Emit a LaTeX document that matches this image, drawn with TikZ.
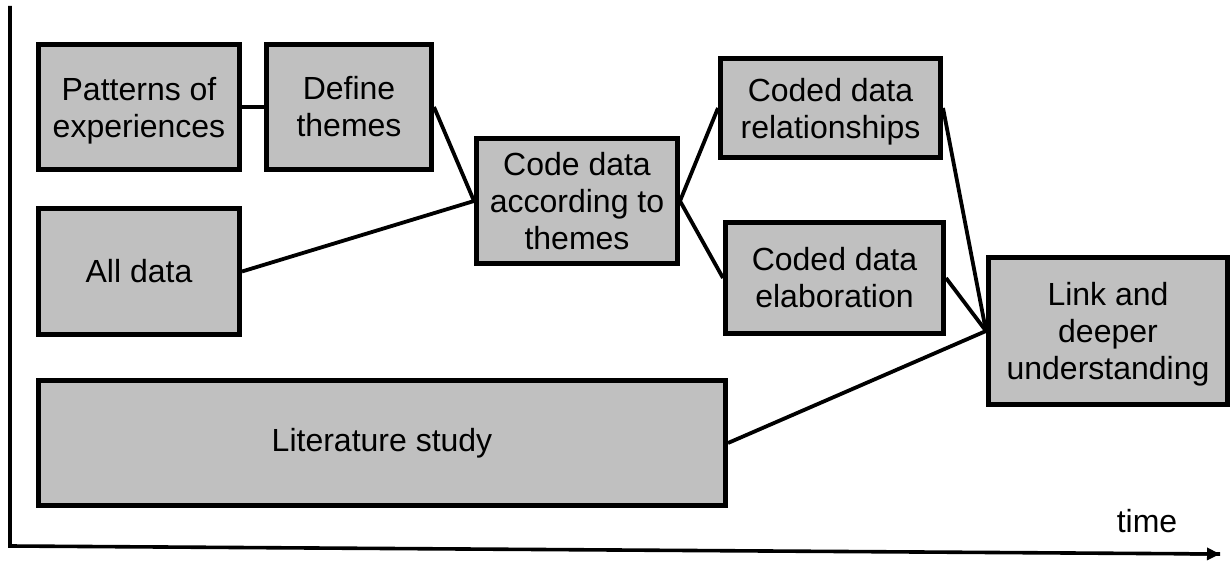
\documentclass[tikz,border=0pt]{standalone}
\usepackage{fontspec}
\setmainfont{Liberation Sans}
\usetikzlibrary{arrows.meta}
\definecolor{boxgray}{HTML}{C0C0C0}
\tikzset{
  box/.style={draw, line width=5pt, fill=boxgray, align=center, inner sep=0pt,
    font=\fontsize{32}{37}\selectfont},
  link/.style={line width=3.8pt},
  axis/.style={line width=3.6pt},
}
\begin{document}
\begin{tikzpicture}[x=1pt, y=-1pt]
  \useasboundingbox (0,0) rectangle (1230,561);

  % time axes
  \coordinate (ytop) at (10,6);
  \coordinate (origin) at (10,546);
  \coordinate (xend) at (1220,554);
  \draw[axis, line join=miter] (ytop) -- (origin) -- (xend);
  \draw[axis, -{Triangle[length=13pt,width=12pt]}] (1190,553.8) -- (xend);
  \node[font=\fontsize{32}{37}\selectfont] (time) at (1147,521) {time};

  % process steps (descenders on last lines are smashed so that baselines line up)
  \node[box, minimum width=201pt, minimum height=125pt] (pat)  at (139,107)   {Patterns of\\\smash{experiences}};
  \node[box, minimum width=165pt, minimum height=125pt] (def)  at (349,107)   {Define\\themes};
  \node[box, minimum width=201pt, minimum height=126pt] (all)  at (139,271.5) {All data};
  \node[box, minimum width=201pt, minimum height=125pt] (code) at (577,201)   {Code data\\according to\\themes};
  \node[box, minimum width=220pt, minimum height=99pt]  (rel)  at (830.5,108) {Coded data\\\smash{relationships}};
  \node[box, minimum width=218pt, minimum height=111pt] (elab) at (834.5,278) {Coded data\\elaboration};
  \node[box, minimum width=239pt, minimum height=147pt] (deep) at (1108,331)  {Link and\\deeper\\\smash{understanding}};
  \node[box, minimum width=687pt, minimum height=125pt] (lit)  at (382,443)   {Literature study};

  % connections
  \draw[link] (pat.east) -- (def.west);
  \draw[link] (def.east) -- (code.west);
  \draw[link] (all.east) -- (code.west);
  \draw[link] (code.east) -- (rel.west);
  \draw[link] (code.east) -- (elab.west);
  \draw[link] (rel.east) -- (deep.west);
  \draw[link] (elab.east) -- (deep.west);
  \draw[link] (lit.east) -- (deep.west);
\end{tikzpicture}
\end{document}
